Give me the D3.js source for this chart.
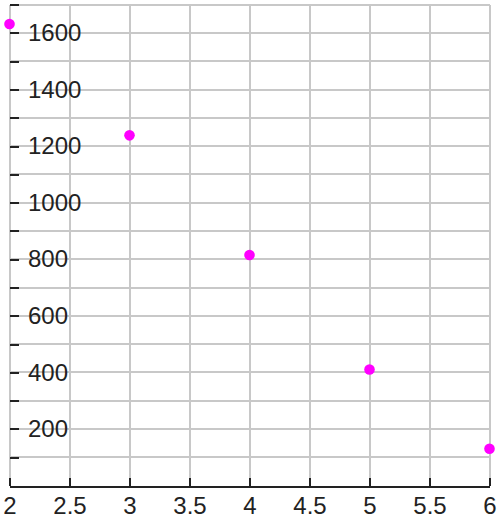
<!DOCTYPE html>
<meta charset="utf-8">
<style>
body { margin: 0; background: #fff; }
svg { display: block; }
.grid line { stroke: #c8c8c8; stroke-width: 2px; shape-rendering: crispEdges; }
.axis text { font: 24px "Liberation Sans", Arial, sans-serif; fill: #222; }
.axis line, .axis path { stroke: #222; stroke-width: 2px; shape-rendering: crispEdges; }
.dot { fill: #ff00ff; }
</style>
<body>
<svg width="498" height="518"></svg>
<script src="https://d3js.org/d3.v7.min.js"></script>
<script>
// data
var xValues = [2, 3, 4, 5, 6];
var yValues = [1632, 1238, 815, 410, 130];
var xTicks = [2, 2.5, 3, 3.5, 4, 4.5, 5, 5.5, 6];
var yTicks = [100, 200, 300, 400, 500, 600, 700, 800, 900, 1000, 1100, 1200, 1300, 1400, 1500, 1600, 1700];
var yLabels = [200, 400, 600, 800, 1000, 1200, 1400, 1600];

var svg = d3.select("svg");

var x = d3.scaleLinear().domain([2, 6]).range([9.5, 489.5]),
    y = d3.scaleLinear().domain([0, 1700]).range([485.5, 4.7]);

// grid
var grid = svg.append("g").attr("class", "grid");
grid.selectAll(".v")
  .data(xTicks)
  .enter().append("line")
    .attr("class", "v")
    .attr("x1", function(d) { return Math.round(x(d)); })
    .attr("x2", function(d) { return Math.round(x(d)); })
    .attr("y1", y(1700))
    .attr("y2", y(0));
grid.selectAll(".h")
  .data(yTicks)
  .enter().append("line")
    .attr("class", "h")
    .attr("x1", x(2))
    .attr("x2", x(6))
    .attr("y1", function(d) { return Math.round(y(d)); })
    .attr("y2", function(d) { return Math.round(y(d)); });

// x axis, ticks pointing up
var xAxis = svg.append("g")
    .attr("class", "axis axis--x")
    .attr("transform", "translate(0," + Math.round(y(0)) + ")")
    .call(d3.axisBottom(x)
      .tickValues(xTicks)
      .tickSizeInner(-8)
      .tickSizeOuter(0)
      .tickPadding(11)
      .tickFormat(function(d) { return d; }));

// y axis, ticks pointing right, labels inside
var yAxis = svg.append("g")
    .attr("class", "axis axis--y")
    .attr("transform", "translate(" + Math.round(x(2)) + ",0)")
    .call(d3.axisRight(y)
      .tickValues(yTicks)
      .tickSize(9)
      .tickPadding(9)
      .tickFormat(function(d) { return yLabels.indexOf(d) >= 0 ? d : ""; }));
yAxis.select(".domain").remove();

// points
svg.selectAll(".dot")
  .data(xValues)
  .enter().append("circle")
    .attr("class", "dot")
    .attr("cx", function(d) { return x(d); })
    .attr("cy", function(d, i) { return y(yValues[i]); })
    .attr("r", 5.3);
</script>
</body>
